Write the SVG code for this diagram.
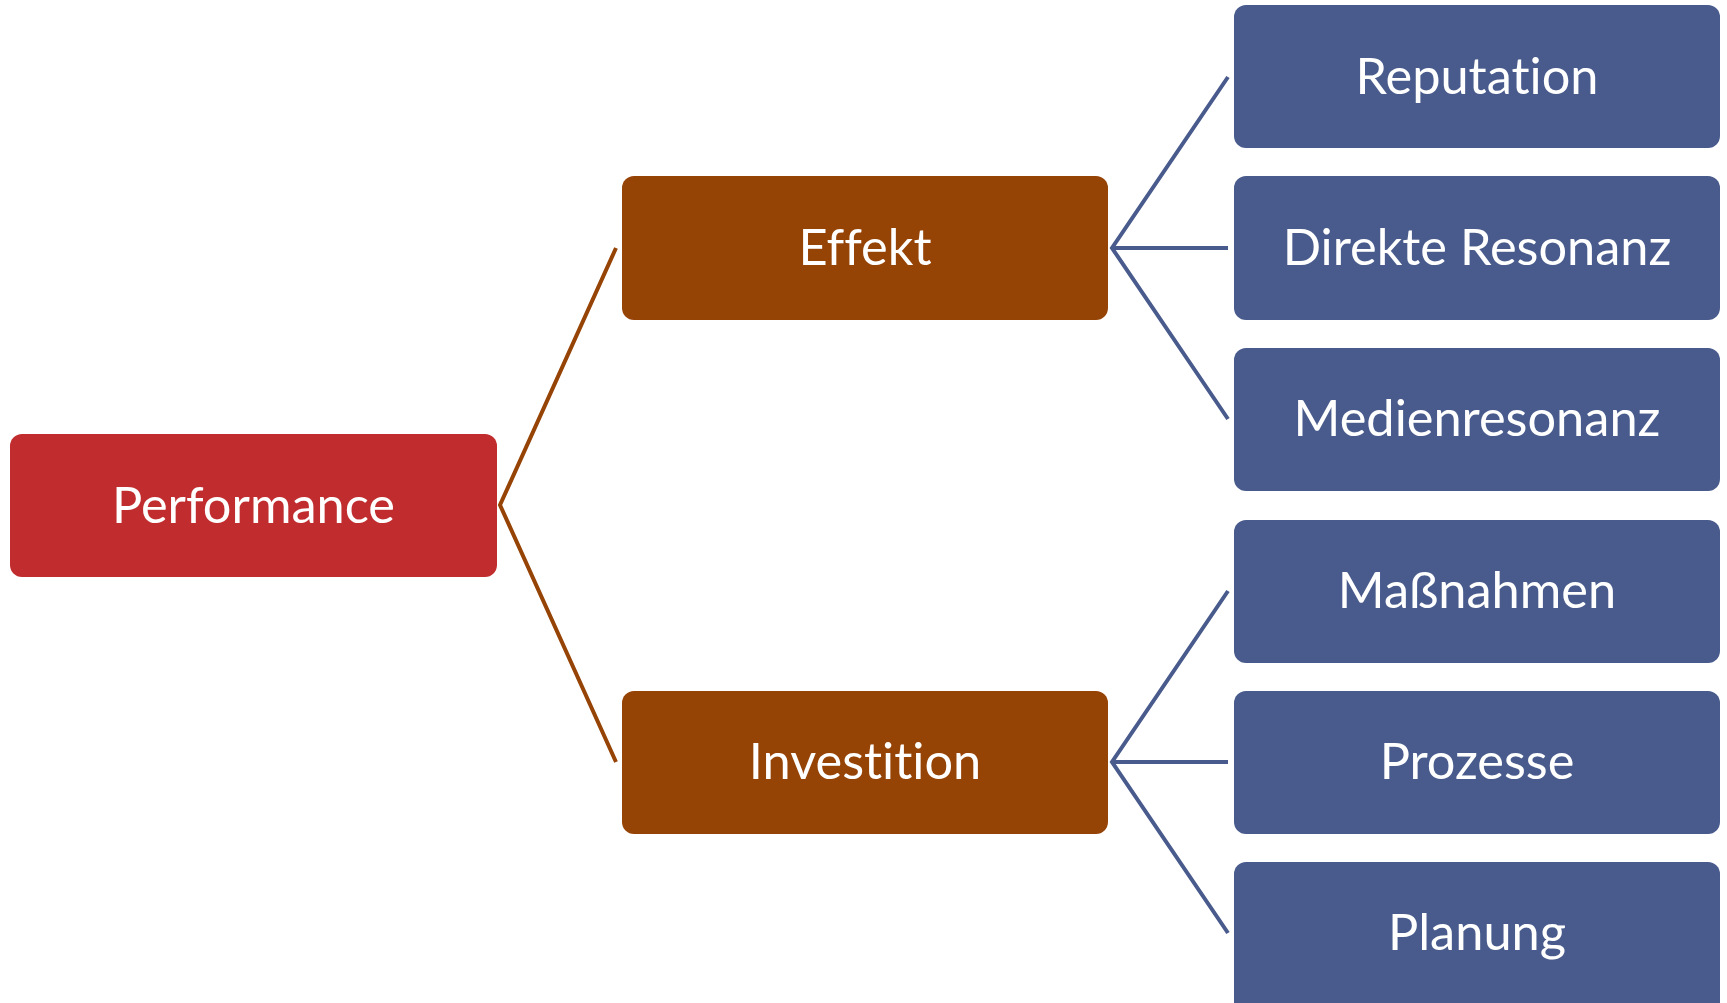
<svg xmlns="http://www.w3.org/2000/svg" width="1727" height="1003" viewBox="0 0 1727 1003">
<style>
.red{fill:#C12D2F}
.brown{fill:#964306}
.blue{fill:#485B8C}
.lbl{fill:#FFFFFF;font-family:Lato,"Open Sans","Liberation Sans",sans-serif;font-size:50.5px;text-anchor:middle;font-variant-ligatures:none;font-feature-settings:"liga" 0,"clig" 0}
.cb{stroke:#964306;stroke-width:4;fill:none}
.cl{stroke:#485B8C;stroke-width:4;fill:none}
</style>
<rect width="1727" height="1003" fill="#FFFFFF"/>
<g id="connectors">
<polyline class="cb" points="616,248 500,505 616,762"/>
<polyline class="cl" points="1228,77 1112,248 1228,419"/>
<line class="cl" x1="1112" y1="248" x2="1228" y2="248"/>
<polyline class="cl" points="1228,591 1112,762 1228,933"/>
<line class="cl" x1="1112" y1="762" x2="1228" y2="762"/>
</g>
<g id="performance">
<rect class="red" x="10" y="434" width="487" height="143" rx="12"/>
<text class="lbl" x="253.5" y="523">Performance</text>
</g>
<g id="effekt">
<rect class="brown" x="622" y="176" width="486" height="144" rx="12"/>
<text class="lbl" x="865" y="265">Effekt</text>
</g>
<g id="investition">
<rect class="brown" x="622" y="691" width="486" height="143" rx="12"/>
<text class="lbl" x="865" y="779">Investition</text>
</g>
<g id="reputation">
<rect class="blue" x="1234" y="5" width="486" height="143" rx="12"/>
<text class="lbl" x="1477" y="94">Reputation</text>
</g>
<g id="direkte-resonanz">
<rect class="blue" x="1234" y="176" width="486" height="144" rx="12"/>
<text class="lbl" x="1477" y="265">Direkte Resonanz</text>
</g>
<g id="medienresonanz">
<rect class="blue" x="1234" y="348" width="486" height="143" rx="12"/>
<text class="lbl" x="1477" y="436">Medienresonanz</text>
</g>
<g id="massnahmen">
<rect class="blue" x="1234" y="520" width="486" height="143" rx="12"/>
<text class="lbl" x="1477" y="608">Maßnahmen</text>
</g>
<g id="prozesse">
<rect class="blue" x="1234" y="691" width="486" height="143" rx="12"/>
<text class="lbl" x="1477" y="779">Prozesse</text>
</g>
<g id="planung">
<rect class="blue" x="1234" y="862" width="486" height="155" rx="12"/>
<text class="lbl" x="1477" y="950">Planung</text>
</g>
</svg>
